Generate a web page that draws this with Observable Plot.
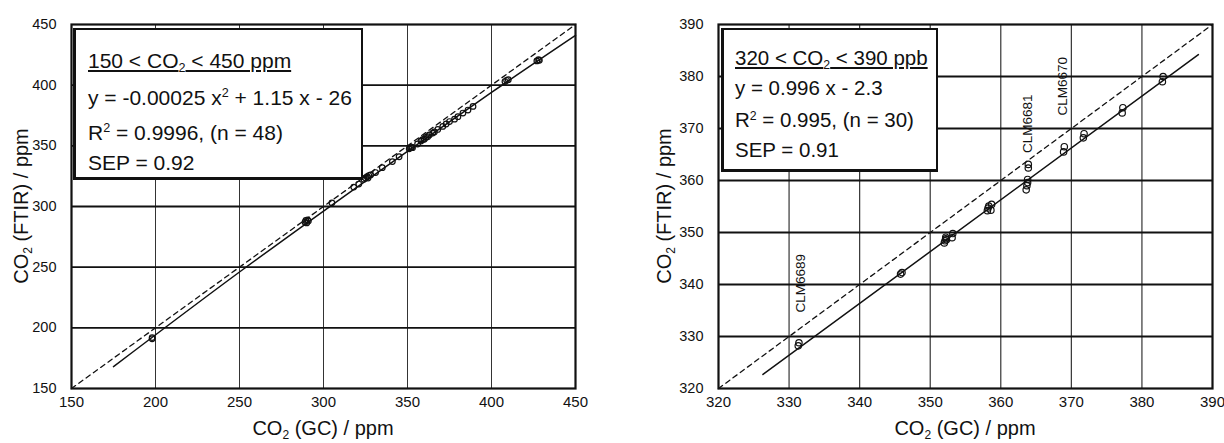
<!DOCTYPE html>
<html>
<head>
<meta charset="utf-8">
<script src="https://cdn.jsdelivr.net/npm/d3@7"></script>
<script src="https://cdn.jsdelivr.net/npm/@observablehq/plot@0.6"></script>
<style>
  html, body { margin: 0; padding: 0; background: #fff; }
  #wrap { position: relative; width: 1224px; height: 443px; overflow: hidden;
          font-family: "Liberation Sans", Arial, Helvetica, sans-serif; color: #111; }
  .panel { position: absolute; top: 0; }
  .box { position: absolute; background: #fff; border: 2px solid #111; border-left-width: 3px; border-bottom-width: 3px; box-sizing: border-box; }
  .bl { position: absolute; white-space: nowrap; font-size: 21px; line-height: 1; }
  .sub { font-size: 0.6em; position: relative; top: 0.35em; }
  .sup { font-size: 0.6em; position: relative; top: -0.6em; }
  .xt { position: absolute; white-space: nowrap; font-size: 20px; line-height: 1; transform: translateX(-50%); }
  .yt { position: absolute; white-space: nowrap; font-size: 20px; line-height: 1; transform: translate(-50%, -50%) rotate(-90deg); }
</style>
</head>
<body>
<div id="wrap">
  <div id="left" class="panel" style="left:0"></div>
  <div id="right" class="panel" style="left:612px"></div>

  <div class="box" style="left:73px; top:28px; width:290px; height:152px;"></div>
  <div class="bl" style="left:88px; top:50px;"><span style="text-decoration:underline">150 &lt; CO<span class="sub">2</span> &lt; 450 ppm</span></div>
  <div class="bl" style="left:88px; top:87px;">y = -0.00025 x<span class="sup">2</span> + 1.15 x - 26</div>
  <div class="bl" style="left:88px; top:122px;">R<span class="sup">2</span> = 0.9996, (n = 48)</div>
  <div class="bl" style="left:88px; top:152px;">SEP = 0.92</div>

  <div class="box" style="left:721px; top:28px; width:217px; height:144px;"></div>
  <div class="bl" style="left:735px; top:48px; font-size:20.5px;"><span style="text-decoration:underline">320 &lt; CO<span class="sub">2</span> &lt; 390 ppb</span></div>
  <div class="bl" style="left:735px; top:78px; font-size:20.5px;">y = 0.996 x - 2.3</div>
  <div class="bl" style="left:735px; top:110px; font-size:20.5px;">R<span class="sup">2</span> = 0.995, (n = 30)</div>
  <div class="bl" style="left:735px; top:140px; font-size:20.5px;">SEP = 0.91</div>

  <div class="xt" style="left:323px; top:418px;">CO<span class="sub">2</span> (GC) / ppm</div>
  <div class="xt" style="left:965px; top:418px;">CO<span class="sub">2</span> (GC) / ppm</div>
  <div class="yt" style="left:21px; top:206px;">CO<span class="sub">2</span> (FTIR) / ppm</div>
  <div class="yt" style="left:664px; top:206px;">CO<span class="sub">2</span> (FTIR) / ppm</div>
</div>

<script>
// ---------- Left panel data (150 < CO2 < 450 ppm) ----------
const leftTicks = [150, 200, 250, 300, 350, 400, 450];
const leftGridInner = [200, 250, 300, 350, 400];
const leftGC = [198, 198, 289, 289.5, 290, 290.5, 291, 305, 318, 321, 324, 325, 326, 326.5, 327, 328, 331, 335, 341, 345,
  351, 352, 352.5, 353, 356, 358, 359, 360, 361, 362, 363, 365, 366, 368, 371, 373, 375, 378, 380, 383, 386, 389,
  408, 409, 410, 427, 428, 428.5];
const leftFTIR = [192, 191, 287, 288.5, 286.5, 289, 288, 303, 316, 318.5, 322.5, 323.5, 324.5, 323.5, 325.5, 326, 328, 332, 337, 341,
  347.5, 348.5, 349, 348.5, 351.5, 354, 355, 355.5, 357, 357.5, 359, 360.5, 361.5, 363.5, 366, 368, 370, 372, 374, 377, 379.5, 382.5,
  403, 404, 404.5, 420, 421, 420.5];
const leftFitX = [175, 250, 325, 400, 450];
const leftFitY = [168, 246, 321, 394, 441];
const leftOneX = [150, 450];
const leftOneY = [150, 450];

// ---------- Right panel data (320 < CO2 < 390) ----------
const rightTicks = [320, 330, 340, 350, 360, 370, 380, 390];
const rightGridInner = [330, 340, 350, 360, 370, 380];
const rightGC = [331.3, 331.4, 345.8, 346, 352, 352.1, 352.2, 352.2, 352.3, 353.1, 353.2, 358.1, 358.2, 358.3, 358.6, 358.7,
  363.6, 363.7, 363.8, 363.8, 363.9, 363.9, 368.9, 369, 371.7, 371.8, 377.2, 377.3, 382.9, 383];
const rightFTIR = [328.2, 328.8, 342, 342.3, 348, 348.4, 348.8, 349.1, 348.6, 349, 349.8, 354.2, 354.7, 355.1, 354.3, 355.4,
  358.2, 359, 359.6, 360.2, 362.4, 363.1, 365.5, 366.5, 368.2, 369, 373, 374, 379, 380];
const rightFitX = [326.3, 388];
const rightFitY = [322.7, 384.2];
const rightOneX = [320, 390];
const rightOneY = [320, 390];
const labelNames = ["CLM6689", "CLM6681", "CLM6670"];
const labelGC = [331.6, 363.8, 368.7];
const labelFTIR = [334.6, 365.3, 372.5];

const zip = (xs, ys) => xs.map((x, i) => ({x, y: ys[i]}));

function panel({ticks, inner, gc, ftir, fitX, fitY, oneX, oneY, marginLeft, marginRight, hGrid, vGrid, r, labels}) {
  const marks = [
    Plot.gridX(inner, {stroke: "#111", strokeOpacity: 0.85, strokeWidth: vGrid}),
    Plot.gridY(inner, {stroke: "#111", strokeOpacity: 1, strokeWidth: hGrid}),
    Plot.line(zip(oneX, oneY), {x: "x", y: "y", stroke: "#111", strokeWidth: 1.3, strokeDasharray: "5,4"}),
    Plot.line(zip(fitX, fitY), {x: "x", y: "y", stroke: "#111", strokeWidth: 1.5, curve: "catmull-rom"}),
    Plot.dot(zip(gc, ftir), {x: "x", y: "y", r, stroke: "#111", strokeWidth: 1.2, fill: "none"}),
    Plot.frame({stroke: "#111", strokeWidth: 2.2}),
    Plot.axisX(ticks, {tickSize: 0, tickPadding: 8, fontSize: 15, label: null}),
    Plot.axisY(ticks, {tickSize: 0, tickPadding: 15, fontSize: 14.5, label: null})
  ];
  if (labels) {
    marks.push(Plot.text(labels, {x: "x", y: "y", text: "t", rotate: -90, textAnchor: "start", fontSize: 13.5, fill: "#111"}));
  }
  return Plot.plot({
    width: 612, height: 443,
    marginLeft, marginRight, marginTop: 24, marginBottom: 55,
    style: {fontFamily: "'Liberation Sans', Arial, Helvetica, sans-serif", color: "#111", background: "transparent"},
    x: {domain: [ticks[0], ticks[ticks.length - 1]]},
    y: {domain: [ticks[0], ticks[ticks.length - 1]]},
    marks
  });
}

document.getElementById("left").appendChild(panel({
  ticks: leftTicks, inner: leftGridInner, gc: leftGC, ftir: leftFTIR,
  fitX: leftFitX, fitY: leftFitY, oneX: leftOneX, oneY: leftOneY,
  marginLeft: 71, marginRight: 37, hGrid: 1.8, vGrid: 1, r: 2.8
}));

document.getElementById("right").appendChild(panel({
  ticks: rightTicks, inner: rightGridInner, gc: rightGC, ftir: rightFTIR,
  fitX: rightFitX, fitY: rightFitY, oneX: rightOneX, oneY: rightOneY,
  marginLeft: 106, marginRight: 12, hGrid: 2, vGrid: 1.2, r: 3.2,
  labels: labelNames.map((t, i) => ({t, x: labelGC[i], y: labelFTIR[i]}))
}));
</script>
</body>
</html>
